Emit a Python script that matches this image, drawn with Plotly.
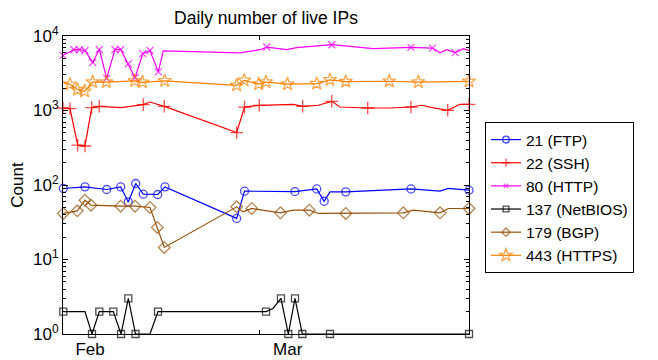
import plotly.graph_objects as go

# ---- data (x = days since the left edge of the time axis; values = live IP counts)
FTP_DAYS = [0.04, 3.14, 6.24, 8.24, 9.33, 10.39, 11.47, 13.53, 14.57, 24.81, 25.93, 33.14, 36.24, 37.31, 38.14, 40.39, 49.71, 53.86, 55.0, 58.0]
FTP_VALS = [89.8, 94.4, 87.0, 94.4, 59.3, 104.7, 75.3, 74.6, 94.4, 35.6, 82.6, 81.7, 88.5, 60.5, 81.0, 80.9, 88.5, 82.6, 89.8, 85.2]
FTP_MARK = [1, 1, 1, 1, 1, 1, 1, 1, 1, 1, 1, 1, 1, 1, 0, 1, 1, 0, 0, 1]

SSH_DAYS = [0.0, 1.0, 2.1, 3.14, 4.1, 5.19, 8.29, 11.47, 12.43, 14.47, 24.81, 25.93, 28.04, 32.9, 34.24, 36.47, 38.39, 39.57, 43.53, 46.71, 49.71, 51.24, 52.76, 54.96, 56.71, 58.0]
SSH_VALS = [1080, 1060, 342, 334, 1094, 1138, 1094, 1199, 1300, 1138, 506, 1110, 1175, 1211, 1138, 1175, 1327, 1114, 1081, 1081, 1114, 1175, 1094, 1006, 1211, 1211]
SSH_MARK = [1, 1, 1, 1, 1, 1, 0, 1, 0, 1, 1, 1, 1, 0, 1, 0, 1, 0, 1, 0, 1, 0, 0, 1, 0, 1]

HTTP_DAYS = [0.0, 1.57, 2.33, 3.14, 4.24, 5.19, 6.24, 7.43, 8.24, 9.33, 10.29, 11.39, 12.43, 13.61, 14.33, 25.29, 28.14, 29.1, 31.96, 33.39, 38.39, 44.33, 49.71, 52.79, 53.86, 54.81, 56.03, 57.19, 58.0]
HTTP_VALS = [5500, 6550, 6550, 6400, 4400, 6600, 2700, 6600, 6600, 4250, 2750, 5800, 6400, 3300, 6300, 5950, 6550, 7100, 6550, 6970, 7640, 6760, 7030, 6880, 5935, 6550, 5975, 6760, 6410]
HTTP_MARK = [1, 1, 1, 1, 1, 1, 1, 1, 1, 1, 1, 1, 1, 1, 0, 0, 0, 1, 0, 0, 1, 0, 1, 1, 0, 0, 1, 0, 0]

NETBIOS_DAYS = [0.04, 3.14, 4.14, 5.19, 7.19, 8.29, 9.33, 10.36, 12.43, 13.57, 29.0, 30.0, 31.14, 32.19, 33.14, 34.19, 38.14, 58.0]
NETBIOS_VALS = [2, 2, 1, 2, 2, 1, 3, 1, 1, 2, 2, 2.2, 3, 1, 3, 1, 1, 1]
NETBIOS_MARK = [1, 0, 1, 1, 1, 1, 1, 1, 0, 1, 1, 0, 1, 1, 1, 1, 1, 1]

BGP_DAYS = [0.04, 2.04, 3.14, 4.0, 8.24, 10.29, 12.43, 13.47, 14.47, 24.81, 25.71, 26.96, 28.61, 31.07, 32.9, 35.19, 36.47, 40.39, 43.86, 48.61, 50.04, 53.86, 55.04, 58.0]
BGP_VALS = [41.5, 45.0, 62.5, 53.6, 52.0, 52.0, 49.9, 26.9, 14.5, 50.9, 43.6, 48.4, 45.9, 42.3, 45.9, 45.9, 41.5, 41.5, 42.3, 42.3, 45.9, 42.3, 48.4, 48.4]
BGP_MARK = [1, 1, 1, 1, 1, 1, 1, 1, 1, 1, 0, 1, 0, 1, 0, 1, 0, 1, 0, 1, 0, 1, 0, 1]

HTTPS_DAYS = [0.0, 1.0, 2.07, 3.1, 4.24, 6.19, 10.24, 11.36, 14.52, 24.81, 25.89, 27.96, 29.0, 32.07, 36.24, 38.14, 40.39, 46.61, 50.76, 58.0]
HTTPS_VALS = [2410, 2245, 1910, 1810, 2410, 2410, 2500, 2390, 2500, 2178, 2540, 2266, 2410, 2266, 2295, 2580, 2440, 2470, 2410, 2460]
HTTPS_MARK = [0, 1, 1, 1, 1, 1, 1, 1, 1, 1, 1, 1, 1, 1, 1, 1, 1, 1, 1, 1]

MONTH_LABELS = ["Feb", "Mar"]
MONTH_LABEL_DAYS = [3.86, 32.1]
X_TICK_DAYS = [28.0]
X_RANGE = [0, 58]
Y_TICK_VALS = [1, 10, 100, 1000, 10000]
Y_TICK_TEXT = ["10<sup>0</sup>", "10<sup>1</sup>", "10<sup>2</sup>", "10<sup>3</sup>", "10<sup>4</sup>"]

SERIES = [
    ("21 (FTP)", FTP_DAYS, FTP_VALS, FTP_MARK, "#0000FF", "circle-open", 8),
    ("22 (SSH)", SSH_DAYS, SSH_VALS, SSH_MARK, "#FF0000", "cross-thin-open", 9),
    ("80 (HTTP)", HTTP_DAYS, HTTP_VALS, HTTP_MARK, "#FF00FF", "x-thin-open", 7),
    ("137 (NetBIOS)", NETBIOS_DAYS, NETBIOS_VALS, NETBIOS_MARK, "#000000", "square-open", 7),
    ("179 (BGP)", BGP_DAYS, BGP_VALS, BGP_MARK, "#99500A", "diamond-open", 9),
    ("443 (HTTPS)", HTTPS_DAYS, HTTPS_VALS, HTTPS_MARK, "#FF8000", "star-open", 10),
]

FONT = "Liberation Sans, Arial, sans-serif"

# the page body adds an 8px offset, so the figure is 8px smaller and margins adjusted
fig = go.Figure()
for i, (name, xs, ys, mk, color, sym, size) in enumerate(SERIES):
    fig.add_trace(go.Scatter(
        x=xs, y=ys, name=name, mode="lines+markers",
        line=dict(color=color, width=1.2),
        marker=dict(symbol=sym, size=[size if m else 0 for m in mk],
                    color=color, line=dict(color=color, width=1.3)),
        cliponaxis=False, legendgroup=f"g{i}",
    ))

PL, PT, PW, PH = 55, 28, 406, 298
fig.update_layout(
    width=650, height=352,
    margin=dict(l=PL, r=650 - PL - PW, t=PT, b=352 - PT - PH, autoexpand=False),
    paper_bgcolor="white", plot_bgcolor="white",
    font=dict(family=FONT, size=17, color="black"),
    title=dict(text="Daily number of live IPs", x=(PL + PW / 2) / 650, xanchor="center",
               y=1 - 9.5 / 352, yanchor="middle", font=dict(size=17.5)),
    showlegend=True,
    legend=dict(x=(477 - PL) / PW, xanchor="left", y=(PH + PT - 114) / PH, yanchor="top",
                bordercolor="black", borderwidth=1, bgcolor="white",
                font=dict(size=15.5), tracegroupgap=0, itemwidth=30,
                entrywidth=125, entrywidthmode="pixels"),
)

fig.update_xaxes(
    range=X_RANGE, showline=True, linecolor="black", linewidth=1, mirror="ticks",
    showgrid=False, zeroline=False,
    tickmode="array", tickvals=MONTH_LABEL_DAYS, ticktext=MONTH_LABELS, ticks="",
    tickfont=dict(size=17),
    minor=dict(tickmode="array", tickvals=X_TICK_DAYS, ticks="inside", ticklen=4,
               tickcolor="black", showgrid=False),
)
fig.update_yaxes(
    type="log", range=[0, 4], showline=True, linecolor="black", linewidth=1, mirror="ticks",
    showgrid=False, zeroline=False, ticks="inside", ticklen=5, tickcolor="black",
    tickmode="array", tickvals=Y_TICK_VALS, ticktext=Y_TICK_TEXT, tickfont=dict(size=17),
    minor=dict(ticks="inside", ticklen=3, dtick="D1", tickcolor="black", showgrid=False),
    title=dict(text="Count", font=dict(size=17), standoff=6),
)

fig.write_html("out.html")
